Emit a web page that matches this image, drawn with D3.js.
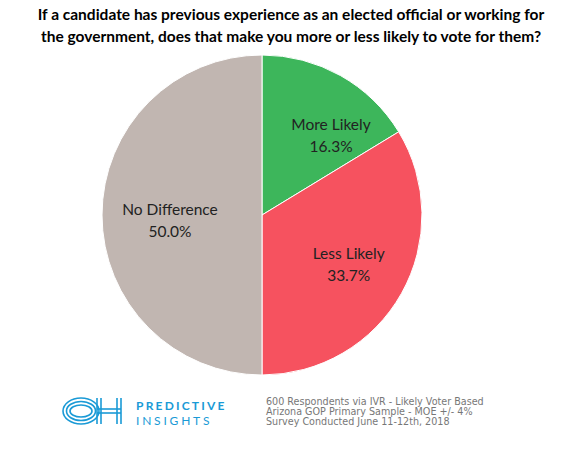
<!DOCTYPE html><html><head><script src="https://d3js.org/d3.v7.min.js"></script>
<style>body{margin:0;background:#fff}</style></head><body><svg width="582" height="455"></svg>
<script>
const labels=["More Likely","Less Likely","No Difference"];
const values=[16.3,33.7,50.0];
const colors=["#3db65b","#f6525f","#c1b6b1"];
const svg=d3.select("svg");
svg.append("text").attr("x",291).attr("y",20).attr("text-anchor","middle").attr("font-family","Lato, Open Sans, sans-serif").attr("font-weight","bold").attr("font-size",15.5).text("If a candidate has previous experience as an elected official or working for");
svg.append("text").attr("x",291).attr("y",42).attr("text-anchor","middle").attr("font-family","Lato, Open Sans, sans-serif").attr("font-weight","bold").attr("font-size",15.5).text("the government, does that make you more or less likely to vote for them?");
const cx=262,cy=215,r=160;
const pie=d3.pie().sort(null)(values);
const arc=d3.arc().innerRadius(0).outerRadius(r);
const g=svg.append("g").attr("transform",`translate(${cx},${cy})`);
g.selectAll("path").data(pie).join("path").attr("d",arc).attr("fill",(d,i)=>colors[i]).attr("stroke","#fff").attr("stroke-width",1);
const la=d3.arc().innerRadius(r*0.6).outerRadius(r*0.6);
const offs=[[22,2],[3,0],[4,3]];
pie.forEach((d,i)=>{const [x,y]=la.centroid(d);
 const t=g.append("text").attr("text-anchor","middle").attr("font-family","Lato, Open Sans, sans-serif").attr("font-size",15.5).attr("fill","#222");
 t.append("tspan").attr("x",x+offs[i][0]).attr("y",y+offs[i][1]-3).text(labels[i]);
 t.append("tspan").attr("x",x+offs[i][0]).attr("y",y+offs[i][1]+19).text(values[i].toFixed(1)+"%");});
// logo
const lg=svg.append("g").attr("fill","none").attr("stroke","#1a9ad6").attr("stroke-width",1.6);
[13,9.5,6].forEach(rr=>lg.append("ellipse").attr("cx",81).attr("cy",411).attr("rx",rr+5).attr("ry",rr));
[[97,398,97,424],[101,398,101,424],[117,398,117,424],[121,398,121,424],[97,409,121,409],[97,413,121,413]].forEach(l=>lg.append("line").attr("x1",l[0]).attr("y1",l[1]).attr("x2",l[2]).attr("y2",l[3]));
svg.append("text").attr("x",136).attr("y",410).attr("font-family","Lato, sans-serif").attr("font-weight","bold").attr("font-size",12).attr("letter-spacing",2.2).attr("fill","#1a9ad6").text("PREDICTIVE");
svg.append("text").attr("x",136).attr("y",425).attr("font-family","Lato, sans-serif").attr("font-size",12).attr("letter-spacing",2.8).attr("fill","#1a9ad6").text("INSIGHTS");
const ft=["600 Respondents via IVR - Likely Voter Based","Arizona GOP Primary Sample - MOE +/- 4%","Survey Conducted June 11-12th, 2018"];
ft.forEach((s,i)=>svg.append("text").attr("x",266).attr("y",405+i*10).attr("font-family","DejaVu Sans, sans-serif").attr("font-size",9.6).attr("fill","#777").text(s));
</script></body></html>
